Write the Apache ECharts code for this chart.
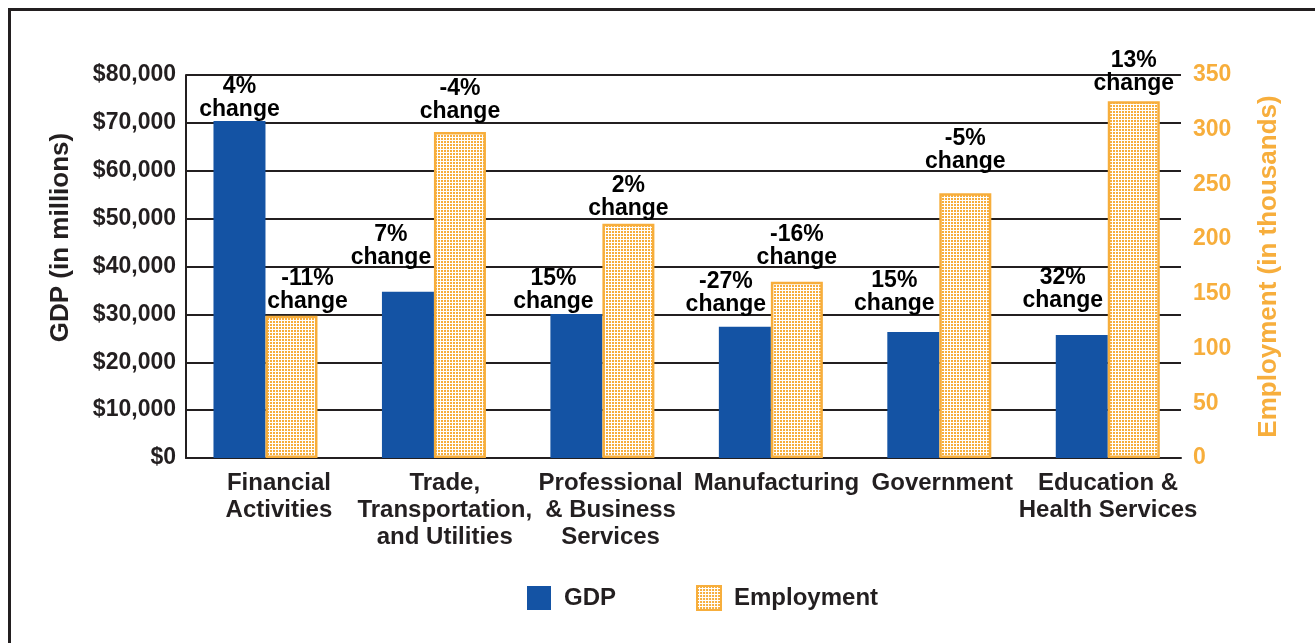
<!DOCTYPE html>
<html>
<head>
<meta charset="utf-8">
<script src="https://cdn.jsdelivr.net/npm/echarts@6/dist/echarts.min.js"></script>
<style>
html,body{margin:0;padding:0;background:#fff;}
#chart{width:1315px;height:643px;}
</style>
</head>
<body>
<div id="chart"></div>
<script>
// ---- data ----
const categories = ['Financial\nActivities', 'Trade,\nTransportation,\nand Utilities', 'Professional\n& Business\nServices', 'Manufacturing', 'Government', 'Education &\nHealth Services'];
const gdpValues = [70400, 34700, 30100, 27400, 26300, 25700];          // $ millions
const employmentValues = [130, 298, 214, 161, 242, 326];               // thousands
const gdpChange = ['4%', '7%', '15%', '-27%', '15%', '32%'];
const employmentChange = ['-11%', '-4%', '2%', '-16%', '-5%', '13%'];
const gdpTicks = [0, 10000, 20000, 30000, 40000, 50000, 60000, 70000, 80000];
const employmentTicks = [0, 50, 100, 150, 200, 250, 300, 350];

// ---- label placement (style, not data) ----
const gdpLabelLift = [0, 23, 1, 11, 17, 23];
const gdpLabelShift = [0, -17, -23, -19, -19, -19];
const empLabelLift = [3, 9, 4, 13, 20, 6];
const empLabelShift = [16, 0, 0, 0, 0, 0];

const DARK = '#231f20';
const BLUE = '#1453a4';
const ORANGE = '#f7ae3c';
const FONT = '"Liberation Sans", Arial, sans-serif';

// dotted pattern for employment bars
const pc = document.createElement('canvas');
pc.width = 3; pc.height = 3;
const pctx = pc.getContext('2d');
pctx.fillStyle = '#ffffff';
pctx.fillRect(0, 0, 3, 3);
pctx.fillStyle = ORANGE;
pctx.fillRect(0, 0, 2, 2);
const pattern = { image: pc, repeat: 'repeat' };

const chart = echarts.init(document.getElementById('chart'), null, { renderer: 'canvas' });

function changeLabel(txt, lift, shift) {
  return {
    show: true,
    position: 'top',
    distance: lift,
    offset: [shift, 0],
    formatter: txt + '\nchange',
    color: '#000',
    fontFamily: FONT,
    fontWeight: 'bold',
    fontSize: 23,
    lineHeight: 23,
    align: 'center'
  };
}

const option = {
  animation: false,
  backgroundColor: '#fff',
  textStyle: { fontFamily: FONT },
  graphic: [{
    type: 'rect',
    shape: { x: 9.5, y: 9.5, width: 1400, height: 1000 },
    style: { fill: 'none', stroke: DARK, lineWidth: 3 },
    silent: true, z: 100
  }],
  grid: [
    { left: 186, right: 134, top: 75, bottom: 185, containLabel: false },
    { left: 181.25, right: 123, top: 75, bottom: 185, containLabel: false }
  ],
  legend: {
    left: 527, top: 585, padding: 0,
    itemWidth: 24, itemHeight: 24, itemGap: 80,
    icon: 'rect',
    textStyle: { fontFamily: FONT, fontWeight: 'bold', fontSize: 24, color: DARK, padding: [0, 0, 0, 8] },
    data: ['GDP', 'Employment']
  },
  xAxis: [
    {
      type: 'category', gridIndex: 0, data: categories,
      axisLine: { show: true, lineStyle: { color: DARK, width: 2 } },
      axisTick: { show: false },
      axisLabel: {
        interval: 0, margin: 12, color: DARK, fontFamily: FONT, fontWeight: 'bold',
        fontSize: 24, lineHeight: 27, padding: [0, 0, 0, 20]
      }
    },
    {
      type: 'category', gridIndex: 1, data: categories,
      show: false
    }
  ],
  yAxis: [
    {
      type: 'value', gridIndex: 0, min: 0, max: 80000, interval: 10000, position: 'left',
      name: 'GDP (in millions)', nameLocation: 'middle', nameGap: 112, nameRotate: 90,
      nameTextStyle: { color: DARK, fontFamily: FONT, fontWeight: 'bold', fontSize: 26, padding: [0, 0, 0, 58] },
      axisLine: { show: true, lineStyle: { color: DARK, width: 2 } },
      axisTick: { show: false },
      splitLine: { show: true, lineStyle: { color: DARK, width: 2 } },
      axisLabel: {
        margin: 10, color: DARK, fontFamily: FONT, fontWeight: 'bold', fontSize: 23,
        formatter: v => gdpTicks.includes(v) ? '$' + v.toLocaleString('en-US') : ''
      }
    },
    {
      type: 'value', gridIndex: 0, min: 0, max: 350, interval: 50, position: 'right',
      name: 'Employment (in thousands)', nameLocation: 'middle', nameGap: 75, nameRotate: 90,
      nameTextStyle: { color: ORANGE, fontFamily: FONT, fontWeight: 'bold', fontSize: 26 },
      axisLine: { show: false },
      axisTick: { show: false },
      splitLine: { show: false },
      axisLabel: {
        margin: 12, color: ORANGE, fontFamily: FONT, fontWeight: 'bold', fontSize: 23,
        formatter: v => employmentTicks.includes(v) ? String(v) : ''
      }
    },
    { type: 'value', gridIndex: 1, min: 0, max: 80000, show: false, splitLine: { show: false } },
    { type: 'value', gridIndex: 1, min: 0, max: 350, show: false, splitLine: { show: false } }
  ],
  series: [
    {
      name: 'GDP', type: 'bar', xAxisIndex: 1, yAxisIndex: 2,
      barWidth: 52, barGap: '0%',
      itemStyle: { color: BLUE },
      data: gdpValues.map((v, i) => ({ value: v, label: changeLabel(gdpChange[i], gdpLabelLift[i], gdpLabelShift[i]) })),
      z: 3
    },
    {
      name: 'Employment', type: 'bar', xAxisIndex: 1, yAxisIndex: 3,
      barWidth: 52, barGap: '0%',
      itemStyle: { color: pattern, borderColor: ORANGE, borderWidth: 2.5 },
      data: employmentValues.map((v, i) => ({ value: v, label: changeLabel(employmentChange[i], empLabelLift[i], empLabelShift[i]) })),
      z: 3
    }
  ]
};
chart.setOption(option);
</script>
</body>
</html>
